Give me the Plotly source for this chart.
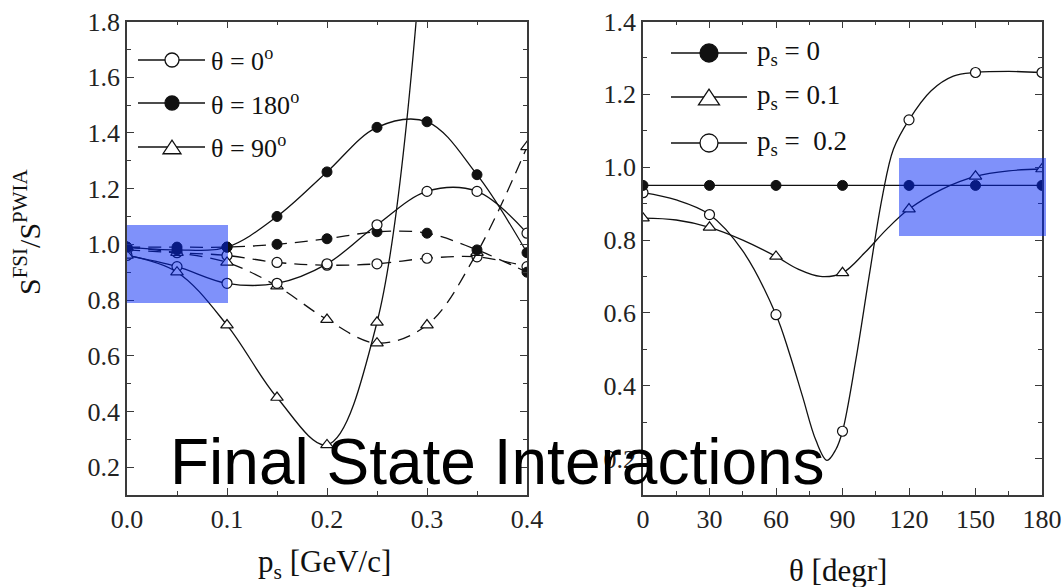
import plotly.graph_objects as go

# ---- data -----------------------------------------------------------------
# left panel: ratio vs spectator momentum p_s [GeV/c]
ps_nodes = [0.0, 0.05, 0.1, 0.15, 0.2, 0.25, 0.3, 0.35, 0.4]

th0_full = [0.96, 0.92, 0.86, 0.86, 0.93, 1.07, 1.19, 1.19, 1.04]
th180_full = [0.99, 0.98, 0.99, 1.10, 1.26, 1.42, 1.44, 1.25, 0.97]
th90_full_x = [0.0, 0.05, 0.1, 0.15, 0.2, 0.25, 0.3]
th90_full = [0.96, 0.90, 0.71, 0.45, 0.28, 0.72, 2.30]

th0_dash = [0.98, 0.97, 0.96, 0.935, 0.925, 0.93, 0.95, 0.955, 0.92]
th180_dash = [0.99, 0.99, 0.99, 1.00, 1.02, 1.045, 1.04, 0.98, 0.90]
th90_dash = [0.99, 0.97, 0.935, 0.85, 0.73, 0.645, 0.71, 0.97, 1.35]

# right panel: ratio vs angle theta [deg]
theta_nodes = [0, 30, 60, 90, 120, 150, 180]
ps00 = [0.95, 0.95, 0.95, 0.95, 0.95, 0.95, 0.95]
ps01 = [0.86, 0.835, 0.755, 0.71, 0.885, 0.975, 0.995]
ps02 = [0.93, 0.87, 0.595, 0.275, 1.13, 1.26, 1.26]

# calculated curves for p_s = 0.1 and 0.2 (finer angular steps)
theta_curve01 = [0, 15, 30, 45, 60, 70, 80, 90, 100, 110, 120, 135, 150, 165, 180]
ps01_curve = [0.86, 0.855, 0.835, 0.80, 0.755, 0.72, 0.70, 0.71, 0.765, 0.83, 0.885,
              0.94, 0.975, 0.99, 0.995]
theta_curve02 = [0, 15, 30, 45, 60, 66, 72, 78, 83, 87, 90, 96, 102, 108, 113, 120,
                 130, 140, 150, 165, 180]
ps02_curve = [0.93, 0.91, 0.87, 0.77, 0.595, 0.49, 0.37, 0.25, 0.195, 0.225, 0.275,
              0.47, 0.70, 0.92, 1.05, 1.13, 1.21, 1.25, 1.26, 1.263, 1.26]

left_ticks = [0.0, 0.1, 0.2, 0.3, 0.4]
right_ticks = [0, 30, 60, 90, 120, 150, 180]

# ---- styling helpers -----------------------------------------------------
W, H = 1064, 587
SERIF = "Liberation Serif, Times New Roman, serif"
INK = "#111111"


def px(x):
    return x / W


def py(y):
    return 1 - y / H


OPEN_C = dict(symbol="circle", size=10, color="white", line=dict(color=INK, width=1.2))
FULL_C = dict(symbol="circle", size=10, color=INK, line=dict(color=INK, width=1))
OPEN_T = dict(symbol="triangle-up", size=11, color="white", line=dict(color=INK, width=1.2))
DASH = "13px,8px"

fig = go.Figure()


def curve(x, y, marker, xa, ya, dash="solid", mode="lines+markers"):
    fig.add_trace(go.Scatter(
        x=x, y=y, mode=mode, xaxis=xa, yaxis=ya,
        line=dict(color=INK, width=1.3, shape="spline", smoothing=1.0, dash=dash),
        marker=marker, showlegend=False, hoverinfo="skip", cliponaxis=True,
    ))


# left panel, dashed family first so the solid curves sit on top
curve(ps_nodes, th0_dash, OPEN_C, "x", "y", DASH)
curve(ps_nodes, th90_dash, OPEN_T, "x", "y", DASH)
curve(ps_nodes, th180_dash, FULL_C, "x", "y", DASH)
curve(ps_nodes, th0_full, OPEN_C, "x", "y")
curve(th90_full_x, th90_full, OPEN_T, "x", "y")
curve(ps_nodes, th180_full, FULL_C, "x", "y")

# right panel: smooth curves, then the computed points on them
curve(theta_curve02, ps02_curve, None, "x2", "y2", mode="lines")
curve(theta_curve01, ps01_curve, None, "x2", "y2", mode="lines")
curve(theta_nodes, ps02, OPEN_C, "x2", "y2", mode="markers")
curve(theta_nodes, ps01, OPEN_T, "x2", "y2", mode="markers")
curve(theta_nodes, ps00, FULL_C, "x2", "y2")

axis_common = dict(
    showline=True, linecolor="#3a3a3a", linewidth=1.6, mirror="allticks",
    ticks="inside", ticklen=7, tickwidth=1.2, tickcolor="#3a3a3a",
    showgrid=False, zeroline=False, automargin=False,
    tickfont=dict(family=SERIF, size=26, color="#222222"),
)

ydom = [py(495), py(21.5)]

fig.update_layout(
    width=W, height=H,
    margin=dict(l=0, r=0, t=0, b=0),
    paper_bgcolor="white", plot_bgcolor="white",
    xaxis=dict(domain=[px(127), px(527)], range=[0, 0.4],
               tickvals=left_ticks, ticktext=[f"{v:.1f}" for v in left_ticks],
               minor=dict(dtick=0.05, ticklen=4, tickcolor="#3a3a3a", ticks="inside"),
               anchor="y", **axis_common),
    yaxis=dict(domain=ydom, range=[0.1, 1.8], tick0=0, dtick=0.2, tickformat=".1f",
               minor=dict(dtick=0.1, ticklen=4, tickcolor="#3a3a3a", ticks="inside"),
               anchor="x", **axis_common),
    xaxis2=dict(domain=[px(643), px(1042)], range=[0, 180],
                tickvals=right_ticks,
                minor=dict(dtick=15, ticklen=4, tickcolor="#3a3a3a", ticks="inside"),
                anchor="y2", **axis_common),
    yaxis2=dict(domain=ydom, range=[0.1, 1.4], tick0=0, dtick=0.2, tickformat=".1f",
                minor=dict(dtick=0.1, ticklen=4, tickcolor="#3a3a3a", ticks="inside"),
                anchor="x2", **axis_common),
)

shapes = []
annotations = []


def legend_entry(x_line0, x_line1, x_mark, y, kind, size, label, x_text, fsize):
    shapes.append(dict(type="line", xref="paper", yref="paper",
                       x0=px(x_line0), x1=px(x_line1), y0=py(y), y1=py(y),
                       line=dict(color=INK, width=1.3)))
    r = size / 2
    if kind == "tri":
        h = size * 0.75
        path = (f"M {px(x_mark - r)},{py(y + h / 2)} L {px(x_mark + r)},{py(y + h / 2)} "
                f"L {px(x_mark)},{py(y - h / 2)} Z")
        shapes.append(dict(type="path", xref="paper", yref="paper", path=path,
                           fillcolor="white", line=dict(color=INK, width=1.3)))
    else:
        shapes.append(dict(type="circle", xref="paper", yref="paper",
                           x0=px(x_mark - r), x1=px(x_mark + r),
                           y0=py(y + r), y1=py(y - r),
                           fillcolor=INK if kind == "full" else "white",
                           line=dict(color=INK, width=1.3)))
    annotations.append(dict(text=label, xref="paper", yref="paper",
                            x=px(x_text), y=py(y), xanchor="left", yanchor="middle",
                            showarrow=False, font=dict(family=SERIF, size=fsize, color=INK)))


legend_entry(138, 205, 172, 60, "open", 14, "θ = 0<sup>o</sup>", 209, 26)
legend_entry(138, 205, 172, 103, "full", 14, "θ = 180<sup>o</sup>", 209, 26)
legend_entry(138, 205, 172, 147, "tri", 18, "θ = 90<sup>o</sup>", 209, 26)

legend_entry(671, 747, 709, 53, "full", 18, "p<sub>s</sub> = 0", 755, 27)
legend_entry(671, 747, 709, 97, "tri", 21, "p<sub>s</sub> = 0.1", 755, 27)
legend_entry(671, 747, 709, 143, "open", 18, "p<sub>s</sub> =  0.2", 755, 27)

# highlighted windows
shapes.append(dict(type="rect", xref="paper", yref="paper",
                   x0=px(127), x1=px(228), y0=py(303), y1=py(225),
                   fillcolor="rgba(0,35,245,0.5)", line=dict(width=0), layer="above"))
shapes.append(dict(type="rect", xref="paper", yref="paper",
                   x0=px(899), x1=px(1046), y0=py(236), y1=py(158),
                   fillcolor="rgba(0,35,245,0.5)", line=dict(width=0), layer="above"))

# axis titles
annotations.append(dict(text="S<sup>FSI</sup>/S<sup>PWIA</sup>", textangle=-90,
                        xref="paper", yref="paper", x=px(27), y=py(232),
                        xanchor="center", yanchor="middle", showarrow=False,
                        font=dict(family=SERIF, size=30, color=INK)))
annotations.append(dict(text="p<sub>s</sub> [GeV/c]", xref="paper", yref="paper",
                        x=px(324), y=py(564), xanchor="center", yanchor="middle",
                        showarrow=False, font=dict(family=SERIF, size=31, color=INK)))
annotations.append(dict(text="θ [degr]", xref="paper", yref="paper",
                        x=px(838), y=py(570), xanchor="center", yanchor="middle",
                        showarrow=False, font=dict(family=SERIF, size=31, color=INK)))

# overlay caption
annotations.append(dict(text="Final State Interactions", xref="paper", yref="paper",
                        x=px(168), y=py(462), xanchor="left", yanchor="middle",
                        showarrow=False,
                        font=dict(family="Liberation Sans, Arial, sans-serif", size=64,
                                  color="black")))

fig.update_layout(shapes=shapes, annotations=annotations)
fig.write_html("out.html")
